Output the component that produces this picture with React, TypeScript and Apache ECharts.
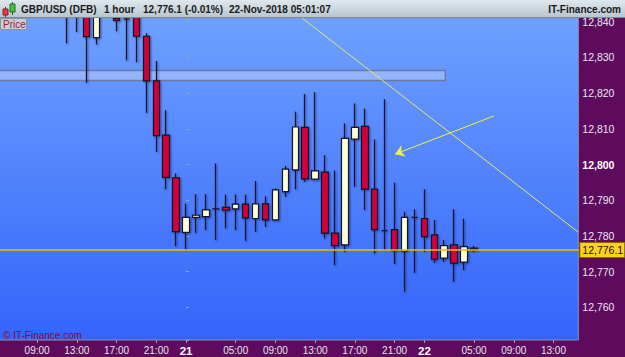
import React, { useEffect, useRef } from 'react';
import * as echarts from 'echarts';

const PURPLE = '#5E0B5E';
const FONT = '"Liberation Sans", Arial, sans-serif';
// the chart canvas starts this many px left of the page so the first hour band can be cut off
const OFF = 10;

// hourly categories: 2018-11-20 05:00 .. 2018-11-22 15:00
const startUTC = Date.UTC(2018, 10, 20, 5);
const hourCount = 59;
const pad = (n: number) => String(n).padStart(2, '0');
const categories: string[] = Array.from({ length: hourCount }, (_, i) => {
  const d = new Date(startUTC + i * 3600000);
  return `${d.getUTCFullYear()}-${pad(d.getUTCMonth() + 1)}-${pad(d.getUTCDate())} ${pad(d.getUTCHours())}:00`;
});

const xLabelTimes = [
  '2018-11-20 09:00', '2018-11-20 13:00', '2018-11-20 17:00', '2018-11-20 21:00',
  '2018-11-21 00:00', '2018-11-21 05:00', '2018-11-21 09:00', '2018-11-21 13:00',
  '2018-11-21 17:00', '2018-11-21 21:00', '2018-11-22 00:00', '2018-11-22 05:00',
  '2018-11-22 09:00', '2018-11-22 13:00',
];

const candleTimes = [
  '2018-11-20 12:00', '2018-11-20 13:00', '2018-11-20 14:00', '2018-11-20 15:00',
  '2018-11-20 16:00', '2018-11-20 17:00', '2018-11-20 18:00', '2018-11-20 19:00',
  '2018-11-20 20:00', '2018-11-20 21:00', '2018-11-20 22:00', '2018-11-20 23:00',
  '2018-11-21 00:00', '2018-11-21 01:00', '2018-11-21 02:00', '2018-11-21 03:00',
  '2018-11-21 04:00', '2018-11-21 05:00', '2018-11-21 06:00', '2018-11-21 07:00',
  '2018-11-21 08:00', '2018-11-21 09:00', '2018-11-21 10:00', '2018-11-21 11:00',
  '2018-11-21 12:00', '2018-11-21 13:00', '2018-11-21 14:00', '2018-11-21 15:00',
  '2018-11-21 16:00', '2018-11-21 17:00', '2018-11-21 18:00', '2018-11-21 19:00',
  '2018-11-21 20:00', '2018-11-21 21:00', '2018-11-21 22:00', '2018-11-21 23:00',
  '2018-11-22 00:00', '2018-11-22 01:00', '2018-11-22 02:00', '2018-11-22 03:00',
  '2018-11-22 04:00', '2018-11-22 05:00',
];

const openPrices = [
  12846, 12845, 12845, 12835.5, 12846, 12840.9, 12840.7, 12843, 12835.9, 12823.4, 12808.2, 12796.3,
  12781.0, 12785.2, 12785.4, 12787.6, 12788.0, 12787.6, 12788.9, 12784.9, 12789.0, 12784.5, 12792.4, 12798.5,
  12810.4, 12795.9, 12797.9, 12780.8, 12777.5, 12807.1, 12810.7, 12793.1, 12781.5, 12781.8, 12775.8, 12785.2,
  12784.9, 12780.3, 12773.8, 12777.5, 12772.7, 12776.6,
];
const closePrices = [
  12843, 12847, 12835.8, 12846, 12845, 12840.3, 12840.7, 12835.9, 12823.4, 12808.1, 12796.4, 12781.2,
  12785.2, 12785.8, 12787.3, 12787.6, 12787.2, 12788.9, 12785.1, 12789.0, 12784.5, 12792.9, 12798.7, 12810.5,
  12796.0, 12798.2, 12780.8, 12777.3, 12807.3, 12810.4, 12793.1, 12781.8, 12781.5, 12776.0, 12785.2, 12785.2,
  12779.8, 12773.5, 12777.3, 12772.4, 12777.0, 12776.1,
];
const lowPrices = [
  12833.9, 12837.1, 12822.9, 12833.6, 12842.5, 12837.3, 12829.2, 12828.6, 12814.5, 12803.6, 12793.1, 12777.2,
  12776.3, 12780.9, 12781.7, 12778.9, 12782.2, 12781.7, 12778.7, 12781.2, 12782.6, 12784.3, 12791.0, 12793.1,
  12795.2, 12795.7, 12779.4, 12771.9, 12775.6, 12793.8, 12787.3, 12775.1, 12776.1, 12772.2, 12764.4, 12769.7,
  12775.6, 12772.5, 12772.8, 12767.2, 12770.5, 12775.6,
];
const highPrices = [
  12849, 12849, 12848, 12848, 12849, 12843, 12842.5, 12844, 12836.7, 12829.0, 12815.2, 12797.5,
  12789.1, 12791.7, 12791.7, 12800.3, 12791.6, 12791.6, 12791.6, 12795.4, 12791.1, 12793.3, 12799.6, 12814.8,
  12819.7, 12820.2, 12802.6, 12798.3, 12811.5, 12817.1, 12815.7, 12807.0, 12818.3, 12794.9, 12786.8, 12787.5,
  12793.1, 12784.5, 12778.9, 12787.5, 12784.8, 12777.2,
];

const lastPrice = 12776.1;
const lastPriceLabel = '12,776.1';

// y axis extent (price) and hour axis extent (hours from 2018-11-21 00:00)
const yMin = 12750.9;
const yMax = 12841.0;
const hourMin = -19.5;
const hourMax = 39.5;

// drawn objects in data space: [hour offset, price]
const trendLine = [[11.68, 12841.0], [39.48, 12781.1]];
const arrowLine = [[31.02, 12813.6], [21.05, 12802.9]];
const zoneBand = [[-19.5, 12826.3], [26.11, 12823.5]];

const header = {
  symbol: 'GBP/USD (DFB)',
  period: '1 hour',
  quote: '12,776.1 (-0.01%)',
  time: '22-Nov-2018 05:01:07',
  brand: 'IT-Finance.com',
};

export default function App() {
  const ref = useRef<HTMLDivElement>(null);
  useEffect(() => {
    if (!ref.current) return;
    const chart = echarts.init(ref.current, undefined, { renderer: 'svg' });
    const ohlcData = categories.map((c) => {
      const i = candleTimes.indexOf(c);
      return i < 0 ? '-' : [openPrices[i], closePrices[i], lowPrices[i], highPrices[i]];
    });
    const labelColor = '#E6E6EE';
    const tickColor = '#8FB08F';

    chart.setOption({
      animation: false,
      backgroundColor: PURPLE,
      grid: {
        left: OFF - 7.6,
        right: 46.7,
        top: 18,
        bottom: 17,
        show: true,
        borderColor: '#8A94A8',
        borderWidth: 1,
        backgroundColor: {
          type: 'linear', x: 0, y: 0, x2: 0, y2: 1,
          colorStops: [
            { offset: 0, color: '#6EA0FF' },
            { offset: 1, color: '#3464FA' },
          ],
        },
      },
      xAxis: [
        {
          type: 'category',
          data: categories,
          boundaryGap: true,
          axisLine: { show: false },
          axisTick: {
            show: true,
            alignWithLabel: true,
            length: 3,
            interval: (_i: number, v: string) => xLabelTimes.includes(v),
            lineStyle: { color: tickColor },
          },
          axisLabel: {
            interval: (_i: number, v: string) => xLabelTimes.includes(v),
            color: labelColor,
            fontFamily: FONT,
            fontSize: 10,
            margin: 5,
            formatter: (v: string) => {
              const [date, time] = v.split(' ');
              if (time === '00:00') return `{day|${Number(date.slice(8))}}`;
              return time;
            },
            rich: {
              day: { fontWeight: 'bold', fontSize: 11.5, color: '#FFFFFF', fontFamily: FONT },
            },
          },
          splitLine: { show: false },
        },
        {
          type: 'value',
          min: hourMin,
          max: hourMax,
          show: false,
          splitLine: { show: false },
        },
      ],
      yAxis: {
        type: 'value',
        position: 'right',
        min: yMin,
        max: yMax,
        splitNumber: 9,
        scale: true,
        axisLine: { show: false },
        axisTick: { show: true, length: 3, lineStyle: { color: tickColor } },
        splitLine: { show: false },
        axisLabel: {
          color: labelColor,
          fontFamily: FONT,
          fontSize: 10.5,
          margin: 4,
          formatter: (v: number) => {
            const r = Math.round(v / 10) * 10;
            if (Math.abs(v - r) > 1e-6) return '';
            const s = r.toLocaleString('en-US');
            return r === 12800 ? `{b|${s}}` : s;
          },
          rich: { b: { fontWeight: 'bold', color: '#FFFFFF', fontSize: 10.5, fontFamily: FONT } },
        },
      },
      series: [
        {
          type: 'line',
          xAxisIndex: 1,
          data: trendLine,
          symbol: 'none',
          z: 1,
          lineStyle: { color: '#E8E85A', width: 1 },
          markArea: {
            silent: true,
            itemStyle: {
              color: 'rgba(185,205,255,0.55)',
              borderColor: '#6C7A9C',
              borderWidth: 1.5,
            },
            data: [[{ coord: zoneBand[0] }, { coord: zoneBand[1] }]],
          },
          markLine: {
            silent: true,
            symbol: ['none', 'arrow'],
            symbolSize: 9,
            lineStyle: { color: '#F2F23C', width: 1, type: 'solid' },
            label: { show: false },
            data: [[{ coord: arrowLine[0] }, { coord: arrowLine[1] }]],
          },
        },
        {
          type: 'candlestick',
          data: ohlcData,
          barWidth: 7,
          z: 2,
          clip: true,
          itemStyle: {
            color: '#FFFFD8',
            color0: '#D0003A',
            borderColor: '#141420',
            borderColor0: '#141420',
            borderWidth: 1.2,
            shadowColor: 'rgba(10,20,80,0.55)',
            shadowBlur: 2,
            shadowOffsetX: 1,
            shadowOffsetY: 1,
          },
          markLine: {
            silent: true,
            symbol: ['none', 'none'],
            lineStyle: { color: '#F7B800', width: 1.5, type: 'solid' },
            label: {
              show: true,
              position: 'end',
              distance: 2,
              formatter: lastPriceLabel,
              backgroundColor: '#FFD21A',
              borderColor: '#8A6A00',
              borderWidth: 1,
              color: '#111111',
              fontFamily: FONT,
              fontSize: 10.5,
              padding: [2, 1, 1, 2],
            },
            data: [{ yAxis: lastPrice }],
          },
        },
      ],
      graphic: [
        {
          type: 'rect', z: 100,
          shape: { x: 0, y: 0, width: 625 + OFF, height: 18 },
          style: {
            fill: {
              type: 'linear', x: 0, y: 0, x2: 0, y2: 1,
              colorStops: [{ offset: 0, color: '#E0E8EE' }, { offset: 1, color: '#B6C4CE' }],
            },
          },
        },
        { type: 'line', z: 101, shape: { x1: 0, y1: 17.5, x2: 625 + OFF, y2: 17.5 }, style: { stroke: '#7C8A96', lineWidth: 1 } },
        { type: 'line', z: 101, shape: { x1: OFF + 5.5, y1: 7, x2: OFF + 5.5, y2: 17 }, style: { stroke: '#702020', lineWidth: 1 } },
        { type: 'rect', z: 102, shape: { x: OFF + 3, y: 9, width: 5, height: 6 }, style: { fill: '#E83848', stroke: '#802020', lineWidth: 1 } },
        { type: 'line', z: 101, shape: { x1: OFF + 12.5, y1: 2, x2: OFF + 12.5, y2: 15 }, style: { stroke: '#206020', lineWidth: 1 } },
        { type: 'rect', z: 102, shape: { x: OFF + 10, y: 4, width: 5, height: 8 }, style: { fill: '#3CC840', stroke: '#1E6A1E', lineWidth: 1 } },
        { type: 'text', z: 103, x: OFF + 21, y: 9, style: { text: header.symbol, fill: '#1A1A1A', font: `bold 10px ${FONT}`, verticalAlign: 'middle' } },
        { type: 'text', z: 103, x: OFF + 104, y: 9, style: { text: header.period, fill: '#1A1A1A', font: `bold 10px ${FONT}`, verticalAlign: 'middle' } },
        { type: 'text', z: 103, x: OFF + 143, y: 9, style: { text: header.quote, fill: '#1A1A1A', font: `bold 10px ${FONT}`, verticalAlign: 'middle' } },
        { type: 'text', z: 103, x: OFF + 229, y: 9, style: { text: header.time, fill: '#1A1A1A', font: `bold 10px ${FONT}`, verticalAlign: 'middle' } },
        { type: 'text', z: 103, x: OFF + 621, y: 9, style: { text: header.brand, fill: '#1A1A1A', font: `bold 10px ${FONT}`, verticalAlign: 'middle', align: 'right' } },
        { type: 'rect', z: 103, shape: { x: OFF + 0.5, y: 18.5, width: 26, height: 11 }, style: { fill: '#C6CFD8', stroke: '#8795A0', lineWidth: 1 } },
        { type: 'text', z: 104, x: OFF + 3, y: 24.5, style: { text: 'Price', fill: '#B0142C', font: `10px ${FONT}`, verticalAlign: 'middle' } },
        { type: 'text', z: 104, x: OFF + 3, y: 335, style: { text: '© IT-Finance.com', fill: '#80102C', font: `10px ${FONT}`, verticalAlign: 'middle' } },
      ],
    });
    return () => chart.dispose();
  }, []);
  return <div ref={ref} style={{ position: 'fixed', left: -OFF, top: 0, width: 625 + OFF, height: 357 }} />;
}
